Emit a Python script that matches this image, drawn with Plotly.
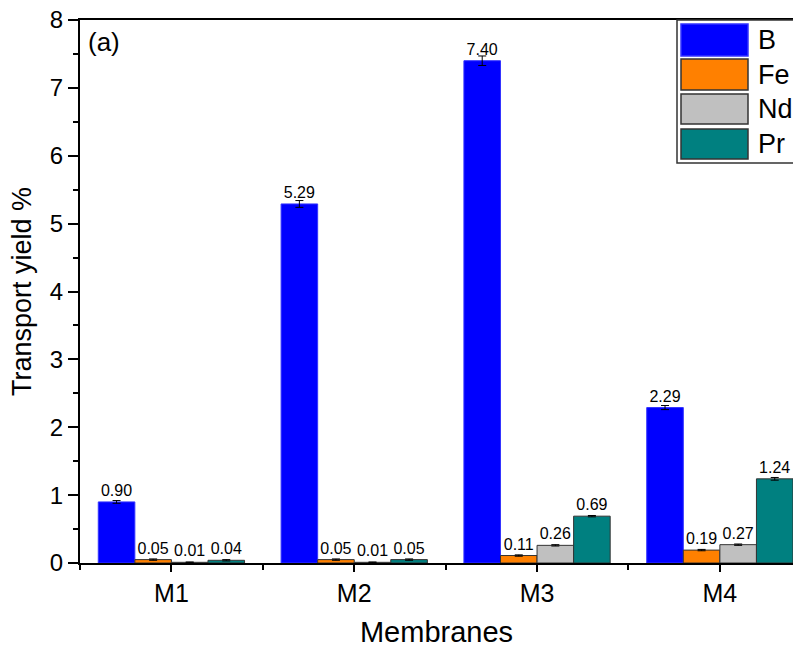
import plotly.graph_objects as go

membranes = ["M1", "M2", "M3", "M4"]
series_names = ["B", "Fe", "Nd", "Pr"]
B_vals = [0.90, 5.29, 7.40, 2.29]
Fe_vals = [0.05, 0.05, 0.11, 0.19]
Nd_vals = [0.01, 0.01, 0.26, 0.27]
Pr_vals = [0.04, 0.05, 0.69, 1.24]
B_err = [0.02, 0.05, 0.07, 0.03]
Fe_err = [0.01, 0.01, 0.01, 0.01]
Nd_err = [0.005, 0.005, 0.01, 0.01]
Pr_err = [0.01, 0.01, 0.01, 0.02]
y_ticks = [0, 1, 2, 3, 4, 5, 6, 7, 8]

colors = ["#0000FF", "#FF8000", "#C0C0C0", "#008080"]
line_colors = ["#3333FF", "#333333", "#333333", "#333333"]
FONT = "Liberation Sans, Arial, sans-serif"

xpos = list(range(len(membranes)))
fig = go.Figure()
for name, vals, errs, c, lc in zip(series_names, [B_vals, Fe_vals, Nd_vals, Pr_vals],
                                   [B_err, Fe_err, Nd_err, Pr_err], colors, line_colors):
    fig.add_trace(go.Bar(
        x=xpos, y=vals, name=name,
        marker=dict(color=c, line=dict(color=lc, width=1)),
        error_y=dict(type="data", array=errs, color="black", thickness=1, width=4),
        text=[f"{v:.2f}" for v in vals], textposition="outside",
        textfont=dict(size=16, color="black", family=FONT),
        cliponaxis=False, showlegend=False,
    ))

fig.update_layout(
    width=793, height=650,
    margin=dict(l=80, r=0, t=20, b=87),
    paper_bgcolor="white", plot_bgcolor="white",
    barmode="group", bargap=0.2, bargroupgap=0,
    font=dict(family=FONT, color="black"),
    xaxis=dict(
        range=[-0.5, 3.40], tickmode="array", tickvals=xpos, ticktext=membranes,
        ticks="outside", ticklen=7, tickwidth=1.5, tickcolor="black",
        showline=True, linecolor="black", linewidth=2, mirror=True,
        showgrid=False, zeroline=False,
        tickfont=dict(size=25, family=FONT),
        minor=dict(tickmode="array", tickvals=[-0.5, 0.5, 1.5, 2.5], ticks="outside",
                   ticklen=5, tickwidth=1.5, tickcolor="black", showgrid=False),
        title=dict(text="Membranes", font=dict(size=29, family=FONT), standoff=16),
    ),
    yaxis=dict(
        range=[0, 8], tickmode="array", tickvals=y_ticks,
        ticks="outside", ticklen=10, tickwidth=1.5, tickcolor="black",
        showline=True, linecolor="black", linewidth=2, mirror=False,
        showgrid=False, zeroline=False,
        tickfont=dict(size=24, family=FONT),
        minor=dict(tickmode="array", tickvals=[0.5, 1.5, 2.5, 3.5, 4.5, 5.5, 6.5, 7.5],
                   ticks="outside", ticklen=5, tickwidth=1.5, tickcolor="black", showgrid=False),
        title=dict(text="Transport yield %", font=dict(size=27, family=FONT), standoff=10),
    ),
)

# panel label
fig.add_annotation(text="(a)", xref="paper", yref="paper", x=(86 - 80) / 713, y=(563 - 42) / 543,
                   xanchor="left", yanchor="middle", showarrow=False,
                   font=dict(size=26, family=FONT, color="black"))

# custom legend
def px_x(p):
    return (p - 80) / 713

def px_y(p):
    return (563 - p) / 543

fig.add_shape(type="rect", xref="paper", yref="paper",
              x0=px_x(677), x1=px_x(800), y0=px_y(163), y1=px_y(20),
              line=dict(color="#333333", width=1.5), fillcolor="white", layer="above")
swatch_rows = [(24, 56), (59, 90), (94, 124), (129, 159)]
for name, c, lc, (t, b) in zip(series_names, colors, line_colors, swatch_rows):
    fig.add_shape(type="rect", xref="paper", yref="paper",
                  x0=px_x(681), x1=px_x(748), y0=px_y(b), y1=px_y(t),
                  line=dict(color=lc, width=1.5), fillcolor=c, layer="above")
    fig.add_annotation(text=name, xref="paper", yref="paper", x=px_x(756), y=px_y((t + b) / 2),
                       xanchor="left", yanchor="middle", showarrow=False,
                       font=dict(size=27, family=FONT, color="black"))

fig.write_html("out.html")
